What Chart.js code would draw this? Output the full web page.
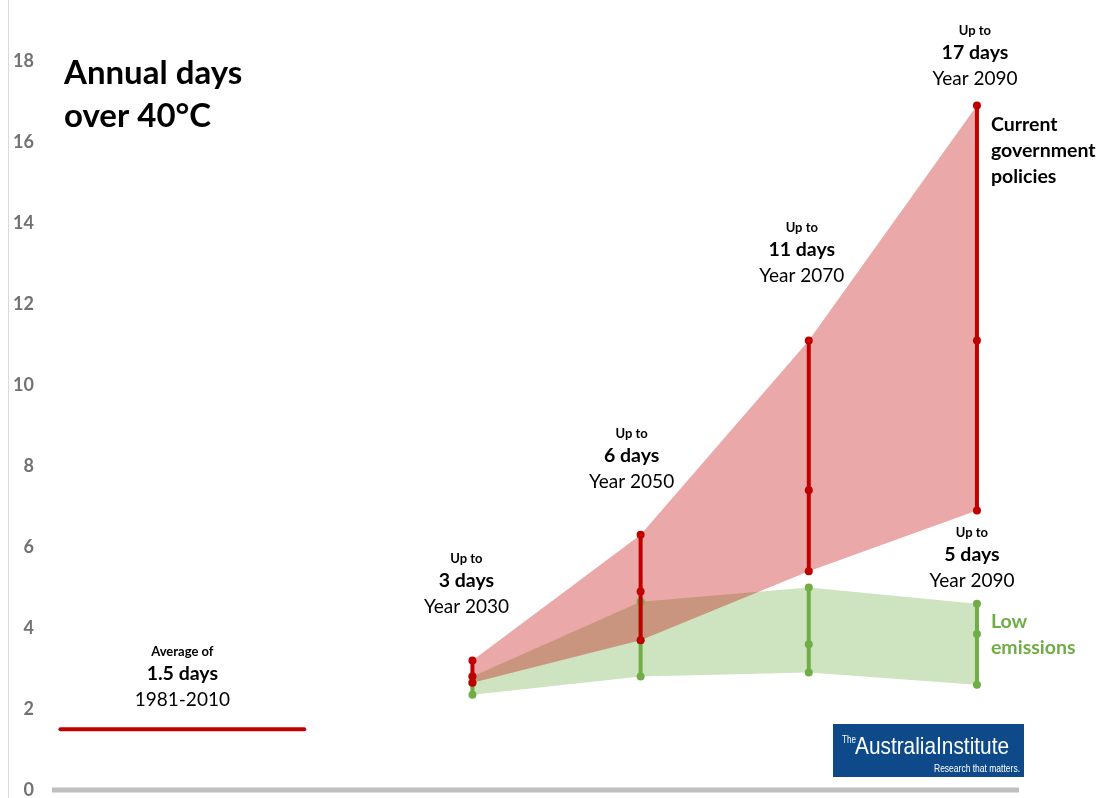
<!DOCTYPE html>
<html>
<head>
<meta charset="utf-8">
<script src="https://cdn.jsdelivr.net/npm/chart.js@4.4.1/dist/chart.umd.min.js"></script>
<style>
  html, body { margin: 0; padding: 0; background: #ffffff; }
  #wrap { width: 1110px; height: 798px; position: relative; }
</style>
</head>
<body>
<div id="wrap"><canvas id="c" width="1110" height="798"></canvas></div>
<script>
// ---- Data ----
const years = [2030, 2050, 2070, 2090];
const policyHigh = [3.2, 6.3, 11.1, 16.9];
const policyMid  = [2.8, 4.9, 7.4, 11.1];
const policyLow  = [2.65, 3.7, 5.4, 6.9];
const lowEmHigh  = [2.8, 4.65, 5.0, 4.6];
const lowEmMid   = [2.65, 3.7, 3.6, 3.85];
const lowEmLow   = [2.35, 2.8, 2.9, 2.6];
const baselinePeriod = [1981, 2010];
const baselineValue = 1.5;
const yTickValues = [0, 2, 4, 6, 8, 10, 12, 14, 16, 18];

// ---- Text ----
const titleLines = ['Annual days', 'over 40°C'];
const baselineNote = ['Average of', '1.5 days', '1981-2010'];
const projNotes = [
  { year: 2030, lines: ['Up to', '3 days', 'Year 2030'] },
  { year: 2050, lines: ['Up to', '6 days', 'Year 2050'] },
  { year: 2070, lines: ['Up to', '11 days', 'Year 2070'] },
  { year: 2090, lines: ['Up to', '17 days', 'Year 2090'] },
  { year: 2090, lines: ['Up to', '5 days', 'Year 2090'] }
];
const policyLabel = ['Current', 'government', 'policies'];
const lowEmLabel = ['Low', 'emissions'];

const RED = '#C00000';
const GREEN = '#70AD47';
const RED_FILL = 'rgba(192,0,0,0.34)';
const GREEN_FILL = 'rgba(112,173,71,0.34)';

const toPts = (xs, ys) => xs.map((x, i) => ({ x: x, y: ys[i] }));

const datasets = [];
// vertical range bars - policies (on top)
years.forEach((yr, i) => {
  datasets.push({
    data: [{x: yr, y: policyLow[i]}, {x: yr, y: policyMid[i]}, {x: yr, y: policyHigh[i]}],
    borderColor: RED, backgroundColor: RED, borderWidth: 4,
    pointRadius: 4, pointBackgroundColor: RED, pointBorderWidth: 0, fill: false
  });
});
years.forEach((yr, i) => {
  datasets.push({
    data: [{x: yr, y: lowEmLow[i]}, {x: yr, y: lowEmMid[i]}, {x: yr, y: lowEmHigh[i]}],
    borderColor: GREEN, backgroundColor: GREEN, borderWidth: 4,
    pointRadius: 4, pointBackgroundColor: GREEN, pointBorderWidth: 0, fill: false
  });
});
// baseline
datasets.push({
  data: baselinePeriod.map(x => ({ x: x, y: baselineValue })),
  borderColor: RED, borderWidth: 4, borderCapStyle: 'round', pointRadius: 0, fill: false
});
// bands
datasets.push({ data: toPts(years, policyHigh), borderWidth: 0, pointRadius: 0, backgroundColor: RED_FILL, fill: '+1' });
datasets.push({ data: toPts(years, policyLow), borderWidth: 0, pointRadius: 0, fill: false });
datasets.push({ data: toPts(years, lowEmHigh), borderWidth: 0, pointRadius: 0, backgroundColor: GREEN_FILL, fill: '+1' });
datasets.push({ data: toPts(years, lowEmLow), borderWidth: 0, pointRadius: 0, fill: false });

const FONT = 'Lato, "Open Sans", sans-serif';

const annotate = {
  id: 'annotate',
  beforeDraw(chart) {
    const ctx = chart.ctx;
    ctx.save();
    ctx.strokeStyle = '#D9D9D9';
    ctx.lineWidth = 1;
    ctx.beginPath();
    ctx.moveTo(8.5, 0);
    ctx.lineTo(8.5, chart.height);
    ctx.stroke();
    // bottom axis line
    const a = chart.chartArea;
    ctx.strokeStyle = '#BFBFBF';
    ctx.lineWidth = 5;
    ctx.beginPath();
    ctx.moveTo(a.left, a.bottom);
    ctx.lineTo(a.right, a.bottom);
    ctx.stroke();
    ctx.restore();
  },
  afterDatasetsDraw(chart) {
    const ctx = chart.ctx;
    const xs = chart.scales.x;
    ctx.save();
    ctx.textBaseline = 'middle';
    // title
    ctx.fillStyle = '#000';
    ctx.textAlign = 'left';
    ctx.font = 'bold 33px ' + FONT;
    ctx.fillText(titleLines[0], 64, 73);
    ctx.fillText(titleLines[1], 64, 116);

    const block = (lines, cx, y0) => {
      ctx.textAlign = 'center';
      ctx.fillStyle = '#000';
      ctx.font = 'bold 13px ' + FONT;
      ctx.fillText(lines[0], cx, y0);
      ctx.font = 'bold 19.5px ' + FONT;
      ctx.fillText(lines[1], cx, y0 + 22);
      ctx.font = '19px ' + FONT;
      ctx.fillText(lines[2], cx, y0 + 48);
    };
    const bx = (xs.getPixelForValue(baselinePeriod[0]) + xs.getPixelForValue(baselinePeriod[1])) / 2;
    block(baselineNote, bx, 652);
    const offs = [[-6, 559], [-9, 434], [-7, 228], [-2, 31], [-5, 533]];
    projNotes.forEach((n, i) => {
      block(n.lines, xs.getPixelForValue(n.year) + offs[i][0], offs[i][1]);
    });

    // series labels
    const lx = xs.getPixelForValue(years[3]) + 14;
    ctx.textAlign = 'left';
    ctx.font = 'bold 19.5px ' + FONT;
    ctx.fillStyle = '#000';
    policyLabel.forEach((t, i) => ctx.fillText(t, lx, 125 + i * 26));
    ctx.fillStyle = GREEN;
    lowEmLabel.forEach((t, i) => ctx.fillText(t, lx, 622 + i * 26));

    // logo
    ctx.fillStyle = '#0E4A8A';
    ctx.fillRect(833, 724, 191, 53);
    ctx.fillStyle = '#ffffff';
    ctx.textAlign = 'left';
    ctx.font = '10px "Liberation Sans Narrow", "Liberation Sans", sans-serif';
    ctx.fillText('The', 842, 740, 14);
    ctx.font = '24px "Liberation Sans Narrow", "Liberation Sans", sans-serif';
    ctx.fillText('AustraliaInstitute', 855, 747, 154);
    ctx.textAlign = 'right';
    ctx.font = '10px "Liberation Sans Narrow", "Liberation Sans", sans-serif';
    ctx.fillText('Research that matters.', 1020, 769, 86);
    ctx.restore();
  }
};

new Chart(document.getElementById('c'), {
  type: 'line',
  data: { datasets: datasets },
  options: {
    responsive: false,
    animation: false,
    devicePixelRatio: 1,
    layout: { padding: { left: 13, right: 91, top: 61, bottom: 8 } },
    plugins: { legend: { display: false }, tooltip: { enabled: false } },
    elements: { line: { tension: 0 } },
    scales: {
      x: {
        type: 'linear', min: 1980, max: 2095,
        display: false
      },
      y: {
        min: 0, max: 18,
        afterBuildTicks(s) { s.ticks = yTickValues.map(v => ({ value: v })); },
        grid: { display: false, drawTicks: false },
        border: { display: false },
        ticks: { color: '#727272', font: { family: FONT, size: 18, weight: 'bold' }, padding: 18 },
        afterFit(s) { s.width = 39; s.paddingTop = 0; s.paddingBottom = 0; }
      }
    }
  },
  plugins: [annotate]
});
</script>
</body>
</html>
